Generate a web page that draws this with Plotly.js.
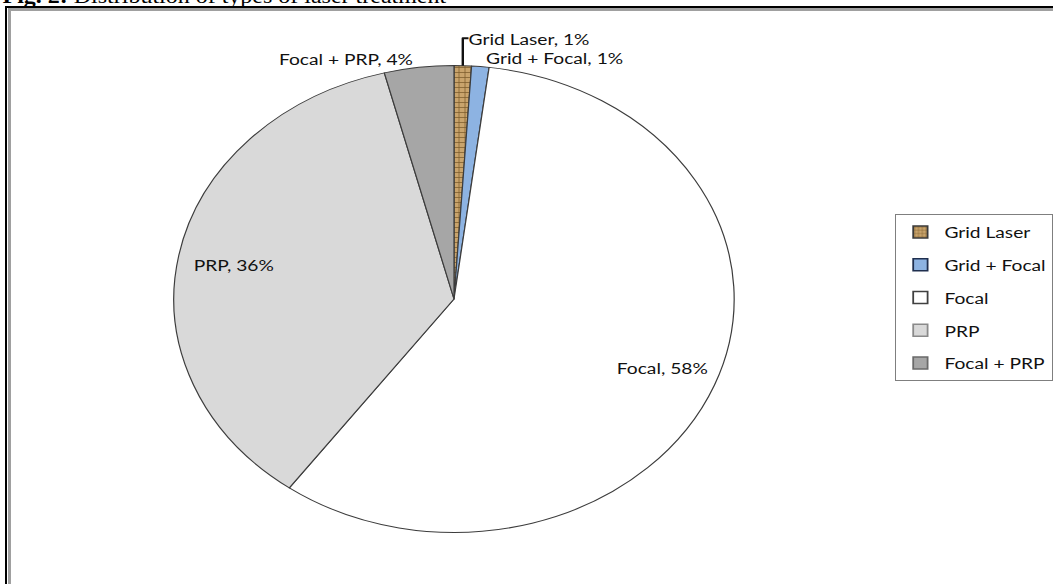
<!DOCTYPE html>
<html>
<head>
<meta charset="utf-8">
<script src="https://cdn.plot.ly/plotly-3.0.1.min.js"></script>
<style>
  html, body { margin: 0; padding: 0; background: #fff; overflow: hidden; }
  #wrap { position: relative; width: 1053px; height: 584px; overflow: hidden; background: #fff; }
  #chart { position: absolute; left: 0; top: 0; width: 878px; height: 584px; transform: scaleX(1.2); transform-origin: 0 0; }
  .fr { position: absolute; pointer-events: none; }
</style>
</head>
<body>
<div id="wrap">
  <div id="chart"></div>
  <div class="fr" style="left:5px;top:6px;width:1060px;height:2px;background:#000;"></div>
  <div class="fr" style="left:5px;top:6px;width:2px;height:600px;background:#000;"></div>
  <div class="fr" style="left:8px;top:8px;width:1060px;height:3px;background:#a0a0a0;"></div>
  <div class="fr" style="left:8px;top:8px;width:3px;height:600px;background:#a0a0a0;"></div>
</div>
<script>
// ---- data ----
const labels = ['Grid Laser', 'Grid + Focal', 'Focal', 'PRP', 'Focal + PRP'];
const values = [1, 1, 58, 36, 4];
const titleText = '<b>Fig. 2:</b> Distribution of types of laser treatment';

// ---- styles ----
const sliceColors = ['#c9a46c', '#8db3e2', '#ffffff', '#d9d9d9', '#a6a6a6'];
const legendLine = ['#3a3a3a', '#1f2f4f', '#404040', '#8a8a8a', '#6a6a6a'];
const patternShapes = ['+', '', '', '', ''];
const textPos = ['outside', 'outside', 'inside', 'inside', 'outside'];

const W = 878, H = 584;
const cx = 379.2, cy = 299, r = 234;
const domain = {
  x: [(cx - r) / W, (cx + r) / W],
  y: [1 - (cy + r) / H, 1 - (cy - r) / H]
};
const labelFont = { family: 'Lato, "Open Sans", sans-serif', size: 16, color: '#111' };

const base = {
  type: 'pie',
  labels: labels,
  values: values,
  sort: false,
  direction: 'clockwise',
  rotation: 0,
  domain: domain,
  marker: {
    colors: sliceColors,
    line: { color: '#3c3c3c', width: 1 },
    pattern: { shape: patternShapes, fgcolor: '#7a5a2a', bgcolor: sliceColors, size: 5, solidity: 0.25 }
  },
  textinfo: 'none',
  showlegend: false,
  hoverinfo: 'skip'
};

const textRing = {
  type: 'pie',
  labels: labels,
  values: values,
  sort: false,
  direction: 'clockwise',
  rotation: 0,
  domain: domain,
  hole: 0.6,
  marker: { colors: labels.map(() => 'rgba(0,0,0,0)'), line: { width: 0 } },
  texttemplate: '%{label}, %{percent:.0%}',
  textposition: textPos,
  insidetextorientation: 'horizontal',
  textfont: labelFont,
  insidetextfont: labelFont,
  outsidetextfont: labelFont,
  showlegend: false,
  hoverinfo: 'skip'
};

const legendTraces = labels.map((lab, i) => ({
  type: 'bar',
  x: [null],
  y: [null],
  name: lab,
  legendgroup: lab,
  marker: {
    color: sliceColors[i],
    line: { color: legendLine[i], width: 1.5 },
    pattern: { shape: patternShapes[i], fgcolor: '#7a5a2a', bgcolor: sliceColors[i], size: 4, solidity: 0.25 }
  },
  hoverinfo: 'skip'
}));

const layout = {
  width: W,
  height: H,
  margin: { l: 0, r: 0, t: 0, b: 0 },
  paper_bgcolor: '#fff',
  plot_bgcolor: '#fff',
  xaxis: { visible: false },
  yaxis: { visible: false },
  showlegend: true,
  legend: {
    x: 748 / W, y: 1 - 214 / H, xanchor: 'left', yanchor: 'top',
    bordercolor: '#7f7f7f', borderwidth: 1, bgcolor: '#fff',
    font: labelFont, tracegroupgap: 9, traceorder: 'grouped'
  },
  annotations: [{
    text: titleText,
    xref: 'paper', yref: 'paper', x: 0, y: 1 - 10 / H,
    xanchor: 'left', yanchor: 'bottom', showarrow: false,
    font: { family: '"Liberation Serif", "Times New Roman", serif', size: 20, color: '#000' }
  }]
};

Plotly.newPlot('chart', [base, textRing].concat(legendTraces), layout, { displayModeBar: false, staticPlot: true });
</script>
</body>
</html>
